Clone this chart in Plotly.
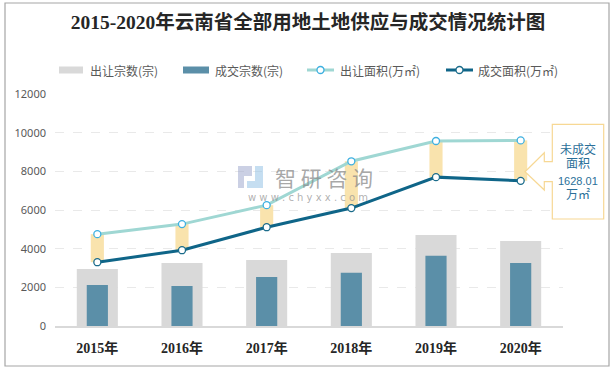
import plotly.graph_objects as go

# ---------------- data ----------------
years = ['2015年', '2016年', '2017年', '2018年', '2019年', '2020年']
supply_count = [2950, 3260, 3420, 3780, 4710, 4400]   # 出让宗数(宗)
deal_count = [2120, 2070, 2540, 2750, 3630, 3260]     # 成交宗数(宗)
supply_area = [4750, 5270, 6250, 8520, 9570, 9600]    # 出让面积(万㎡)
deal_area = [3300, 3920, 5110, 6100, 7700, 7510]      # 成交面积(万㎡)
y_ticks = [0, 2000, 4000, 6000, 8000, 10000, 12000]
legend_names = ['出让宗数(宗)', '成交宗数(宗)', '出让面积(万㎡)', '成交面积(万㎡)']
title_text = '2015-2020年云南省全部用地土地供应与成交情况统计图'
callout_lines = ['未成交', '面积', '1628.01', '万㎡']

# ---------------- styles ----------------
W, H = 616, 369
ML, MR, MT, MB = 55, 53, 94, 43
PW, PH = W - ML - MR, H - MT - MB
C_GRAY = '#d9d9d9'
C_BLUE = '#5b8fa8'
C_LIGHT = '#9fd7d3'
C_DARK = '#0f6588'
C_YEL = '#f9e3ad'
C_MK_LIGHT = '#3eb0e0'
C_MK_DARK = '#1a6b8a'
CJK = 'Noto Sans CJK SC'


def px(x):
    return (x - ML) / PW


def py(y):
    return (H - MB - y) / PH


fig = go.Figure()

fig.add_trace(go.Bar(x=years, y=supply_count, width=0.485, marker_color=C_GRAY,
                     marker_line_width=0, name=legend_names[0], showlegend=False))
fig.add_trace(go.Bar(x=years, y=deal_count, width=0.25, marker_color=C_BLUE,
                     marker_line_width=0, name=legend_names[1], showlegend=False))
gap = [s - d for s, d in zip(supply_area, deal_area)]
fig.add_trace(go.Bar(x=years, y=gap, base=deal_area, width=0.155, marker_color=C_YEL,
                     marker_line_width=0, showlegend=False, hoverinfo='skip'))
fig.add_trace(go.Scatter(x=years, y=supply_area, mode='lines+markers', name=legend_names[2],
                         line=dict(color=C_LIGHT, width=3),
                         marker=dict(size=7, color='white', line=dict(color=C_MK_LIGHT, width=1.3)),
                         showlegend=False))
fig.add_trace(go.Scatter(x=years, y=deal_area, mode='lines+markers', name=legend_names[3],
                         line=dict(color=C_DARK, width=3),
                         marker=dict(size=7, color='white', line=dict(color=C_MK_DARK, width=1.3)),
                         showlegend=False))

shapes = []
annotations = []

# outer border
shapes.append(dict(type='rect', xref='paper', yref='paper', x0=px(5), x1=px(609), y0=py(366), y1=py(3),
                   line=dict(color='#a6a6a6', width=1.2), fillcolor='rgba(0,0,0,0)', layer='below'))

# manual legend
leg_y = 70
leg_font = dict(family=CJK, size=12, color='#595959')
rects = [(59, 83, C_GRAY, 88), (183, 209, C_BLUE, 213)]
for i, (a, b, c, tx) in enumerate(rects):
    shapes.append(dict(type='rect', xref='paper', yref='paper', x0=px(a), x1=px(b),
                       y0=py(leg_y + 3.5), y1=py(leg_y - 3.5), fillcolor=c, line_width=0))
    annotations.append(dict(xref='paper', yref='paper', x=px(tx), y=py(leg_y), text=legend_names[i],
                            showarrow=False, xanchor='left', yanchor='middle', font=leg_font))
lines = [(307, 334, C_LIGHT, C_MK_LIGHT, 338), (446, 473, C_DARK, C_MK_DARK, 476)]
for j, (a, b, c, mc, tx) in enumerate(lines):
    shapes.append(dict(type='line', xref='paper', yref='paper', x0=px(a), x1=px(b),
                       y0=py(leg_y), y1=py(leg_y), line=dict(color=c, width=3)))
    m = (a + b) / 2
    shapes.append(dict(type='circle', xref='paper', yref='paper', x0=px(m - 3.5), x1=px(m + 3.5),
                       y0=py(leg_y + 3.5), y1=py(leg_y - 3.5), fillcolor='white',
                       line=dict(color=mc, width=1.3)))
    annotations.append(dict(xref='paper', yref='paper', x=px(tx), y=py(leg_y), text=legend_names[2 + j],
                            showarrow=False, xanchor='left', yanchor='middle', font=leg_font))

# callout box with arrow
pts = [(552.3, 124.3), (603.7, 124.3), (603.7, 219), (552.3, 219), (552.3, 181.7), (544.3, 181.7),
       (544.3, 190), (525, 171.7), (544.3, 152.7), (544.3, 161.7), (552.3, 161.7)]
path = 'M ' + ' L '.join(f'{px(x):.5f},{py(y):.5f}' for x, y in pts) + ' Z'
shapes.append(dict(type='path', xref='paper', yref='paper', path=path, fillcolor='white',
                   line=dict(color='#f7d894', width=1.2)))
callout_y = [149.5, 164, 180.5, 195]
callout_sizes = [12, 12, 11, 12]
for t, yy, fs in zip(callout_lines, callout_y, callout_sizes):
    annotations.append(dict(xref='paper', yref='paper', x=px(578), y=py(yy), text=t,
                            showarrow=False, xanchor='center', yanchor='middle',
                            font=dict(family='Liberation Sans, ' + CJK, size=fs, color='#2b6f99')))

# watermark
shapes.append(dict(type='path', xref='paper', yref='paper',
                   path=(f'M {px(238):.5f},{py(166):.5f} L {px(252):.5f},{py(166):.5f} L {px(252):.5f},{py(176):.5f} '
                         f'L {px(244):.5f},{py(176):.5f} L {px(244):.5f},{py(188):.5f} L {px(238):.5f},{py(188):.5f} Z'),
                   fillcolor='rgba(160,170,205,0.55)', line_width=0))
shapes.append(dict(type='path', xref='paper', yref='paper',
                   path=(f'M {px(255):.5f},{py(166):.5f} L {px(263):.5f},{py(166):.5f} L {px(263):.5f},{py(188):.5f} '
                         f'L {px(247):.5f},{py(188):.5f} L {px(247):.5f},{py(181):.5f} L {px(255):.5f},{py(181):.5f} Z'),
                   fillcolor='rgba(150,195,230,0.55)', line_width=0))
annotations.append(dict(xref='paper', yref='paper', x=px(324), y=py(177), text='智 研 咨 询',
                        showarrow=False, xanchor='center', yanchor='middle',
                        font=dict(family=CJK, size=21, color='rgba(140,140,140,0.75)')))
annotations.append(dict(xref='paper', yref='paper', x=px(308), y=py(197), text='w w w . c h y x x . c o m',
                        showarrow=False, xanchor='center', yanchor='middle',
                        font=dict(family='DejaVu Sans', size=10, color='rgba(150,150,150,0.75)')))

fig.update_layout(
    width=W, height=H,
    margin=dict(l=ML, r=MR, t=MT, b=MB, autoexpand=False),
    paper_bgcolor='white', plot_bgcolor='white',
    barmode='overlay',
    title=dict(text=title_text, x=0.5, xanchor='center', y=1 - 22 / H, yanchor='middle',
               font=dict(family='Liberation Serif, ' + CJK, size=19.5, color='#262626', weight='bold')),
    showlegend=False,
    shapes=shapes,
    annotations=annotations,
    xaxis=dict(type='category', range=[-0.5, 5.5], showline=True, linecolor='#d9d9d9', linewidth=1.5,
               showgrid=False, ticks='', ticklabelstandoff=8,
               tickfont=dict(family='Liberation Serif, ' + CJK, size=14, color='#262626', weight='bold')),
    yaxis=dict(range=[0, 12000], tickvals=y_ticks, tickformat='d', showgrid=True, gridcolor='#e9e9e9',
               griddash='dash', gridwidth=1, zeroline=False, showline=False, ticks='', ticklabelstandoff=8,
               tickfont=dict(family='Noto Sans', size=11, color='#595959')),
)

fig.write_html('out.html', config={'displayModeBar': False},
               post_script="document.body.style.margin='0';")
